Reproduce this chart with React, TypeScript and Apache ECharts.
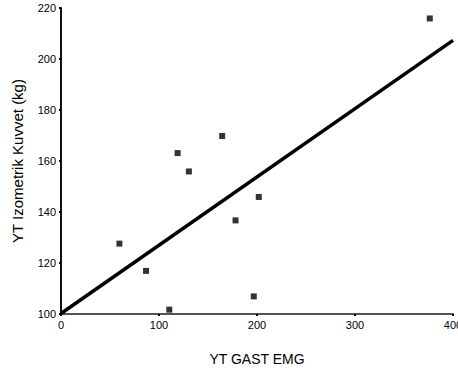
import React, { useEffect, useRef } from "react";
import * as echarts from "echarts";

const emgValues = [59.6, 86.8, 110.5, 119, 130.5, 164.5, 178.1, 201.8, 196.7, 376.3];
const forceValues = [127.6, 116.9, 101.7, 163.1, 155.9, 169.8, 136.7, 145.9, 106.9, 215.9];
const fitX = [0, 400];
const fitY = [100.2, 207.3];
const xName = "YT GAST EMG";
const yName = "YT Izometrik Kuvvet (kg)";

export default function App() {
  const ref = useRef<HTMLDivElement>(null);
  useEffect(() => {
    if (!ref.current) return;
    const chart = echarts.init(ref.current, null, { renderer: "svg" });
    const font = "Liberation Sans, Arial, sans-serif";
    chart.setOption({
      animation: false,
      backgroundColor: "#fff",
      grid: {
        left: 61,
        right: 5,
        top: 8,
        bottom: 57,
        containLabel: false,
        outerBoundsMode: "none",
      },
      xAxis: {
        type: "value",
        min: 0,
        max: 400,
        interval: 100,
        name: xName,
        nameLocation: "middle",
        nameGap: 38,
        nameTextStyle: { fontSize: 14, color: "#000", fontFamily: font },
        axisLine: { show: true, onZero: false, lineStyle: { color: "#555", width: 2 } },
        axisTick: { show: true, length: 2, lineStyle: { color: "#000", width: 2 } },
        axisLabel: { fontSize: 11, color: "#000", fontFamily: font, margin: 5, hideOverlap: false },
        splitLine: { show: false },
      },
      yAxis: {
        type: "value",
        min: 100,
        max: 220,
        interval: 20,
        name: yName,
        nameLocation: "middle",
        nameGap: 36,
        nameTextStyle: { fontSize: 15, color: "#000", fontFamily: font },
        axisLine: { show: true, onZero: false, lineStyle: { color: "#111", width: 2 } },
        axisTick: { show: true, length: 2, lineStyle: { color: "#000", width: 2 } },
        axisLabel: { fontSize: 11, color: "#000", fontFamily: font, margin: 5 },
        splitLine: { show: false },
      },
      series: [
        {
          type: "line",
          data: fitX.map((x, i) => [x, fitY[i]]),
          showSymbol: false,
          symbol: "none",
          lineStyle: { color: "#000", width: 3.5 },
          z: 2,
        },
        {
          type: "scatter",
          data: emgValues.map((x, i) => [x, forceValues[i]]),
          symbol: "rect",
          symbolSize: 6,
          itemStyle: { color: "#000" },
          z: 3,
        },
      ],
    });
    return () => chart.dispose();
  }, []);
  return (
    <div
      ref={ref}
      style={{ position: "absolute", left: 0, top: 0, width: 458, height: 371 }}
    />
  );
}
